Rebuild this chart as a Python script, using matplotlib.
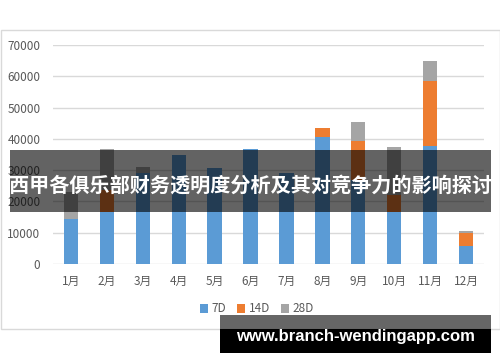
import matplotlib.pyplot as plt
import numpy as np
from matplotlib.patches import Rectangle

plt.rcParams['font.family'] = ['Noto Sans CJK SC', 'DejaVu Sans']

months = ['1月', '2月', '3月', '4月', '5月', '6月', '7月', '8月', '9月', '10月', '11月', '12月']
d7 = [14400, 16500, 29000, 34800, 30600, 36800, 29000, 40700, 26800, 16600, 37800, 5800]
d14 = [0, 7100, 0, 0, 0, 0, 0, 2800, 12600, 5400, 20800, 4000]
d28 = [8700, 13100, 1900, 0, 0, 0, 0, 0, 5900, 15300, 6200, 700]
series_names = ['7D', '14D', '28D']
colors = ['#5B9BD5', '#ED7D31', '#A5A5A5']
title = '西甲各俱乐部财务透明度分析及其对竞争力的影响探讨'
watermark = 'www.branch-wendingapp.com'

W, H = 500, 362
fig = plt.figure(figsize=(W / 100, H / 100), dpi=100)

def px(x0, y0, x1, y1):
    # pixel box (top-left origin) -> figure fraction rect
    return (x0 / W, 1 - y1 / H, (x1 - x0) / W, (y1 - y0) / H)

# outer chart frame
fx, fy, fw, fh = px(0.5, 30, 499.5, 329)
fig.patches.append(Rectangle((fx, fy), fw, fh, transform=fig.transFigure,
                             fill=False, edgecolor='#D9D9D9', linewidth=1.0, zorder=0))

ax = fig.add_axes(px(53, 45, 484, 264))
x = np.arange(len(months))
bottom = np.zeros(len(months))
for name, vals, c in zip(series_names, [d7, d14, d28], colors):
    ax.bar(x, vals, width=0.4, bottom=bottom, color=c, label=name, zorder=3)
    bottom += np.array(vals)

ax.set_xlim(-0.5, len(months) - 0.5)
ax.set_ylim(0, 70000)
ax.set_yticks(range(0, 70001, 10000))
ax.set_xticks(x)
ax.set_xticklabels(months)
ax.grid(axis='y', color='#D9D9D9', linewidth=1.0, zorder=0)
for s in ax.spines.values():
    s.set_visible(False)
ax.tick_params(length=0, labelsize=8.5, labelcolor='#595959')
ax.tick_params(axis='y', pad=9)
ax.tick_params(axis='x', pad=8)

fig.legend(loc='center', bbox_to_anchor=(257 / W, 1 - 309 / H), ncol=3, frameon=False,
           fontsize=8.5, labelcolor='#595959', handlelength=0.7, handleheight=0.7,
           handletextpad=0.3, columnspacing=0.9)

# title banner
bx, by, bw, bh = px(10, 150, 491, 212)
fig.patches.append(Rectangle((bx, by), bw, bh, transform=fig.transFigure,
                             facecolor='black', alpha=0.61, edgecolor='none', zorder=10))
fig.text(250 / W, 1 - 185 / H, title, color='white', fontsize=14.5, fontweight='bold',
         ha='center', va='center', zorder=11)

# watermark box
wx, wy, ww, wh = px(220, 315, 491, 329)
fig.patches.append(Rectangle((wx, wy), ww, wh, transform=fig.transFigure,
                             facecolor='black', alpha=0.6, edgecolor='none', zorder=10))
wx, wy, ww, wh = px(220, 329, 491, 353)
fig.patches.append(Rectangle((wx, wy), ww, wh, transform=fig.transFigure,
                             facecolor='black', edgecolor='none', zorder=10))
fig.text(355 / W, 1 - 337 / H, watermark, color='white', fontsize=12, fontweight='bold',
         family='Liberation Sans', ha='center', va='center', zorder=11)

fig.savefig('out.png', dpi=100)
